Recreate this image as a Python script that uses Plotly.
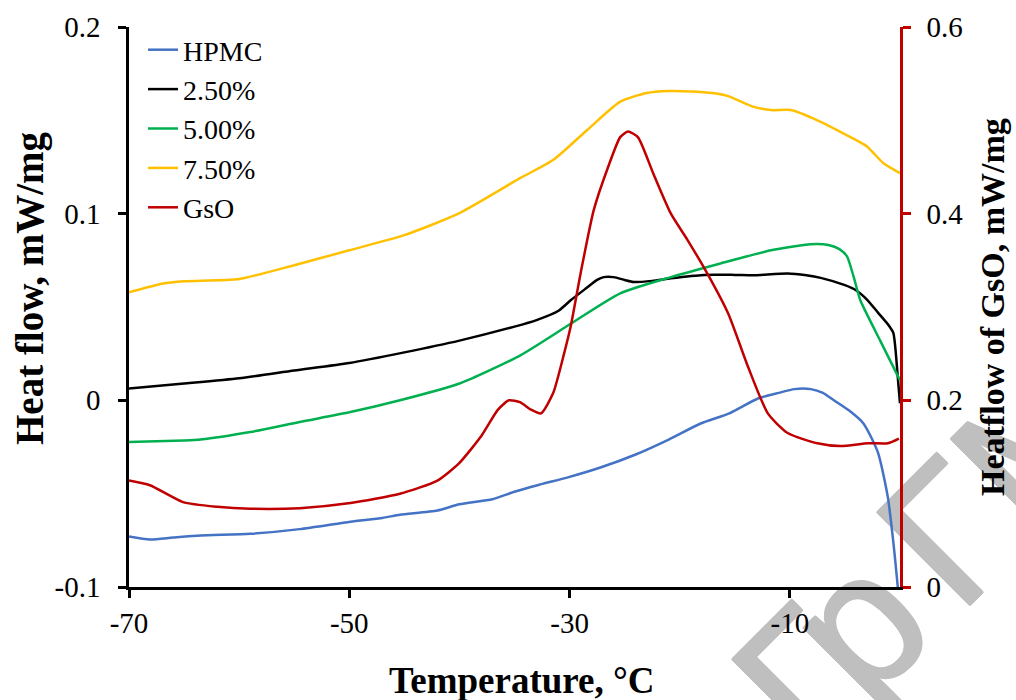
import plotly.graph_objects as go

# ---- data ----
hpmc_x = [-70, -68.1, -66, -63.5, -59, -54.5, -49.9, -47, -45.4, -42, -40, -37, -35, -33, -30,
          -27.2, -24, -21, -18.1, -15.5, -12.9, -11, -9.6, -8.1, -7, -6, -4.5, -3.3, -2, -1.1, -0.55, -0.2]
hpmc_y = [-0.0729, -0.0745, -0.0735, -0.0724, -0.0715, -0.069, -0.065, -0.063, -0.0613, -0.059, -0.0557,
          -0.053, -0.049, -0.0456, -0.041, -0.036, -0.029, -0.021, -0.0124, -0.007, 0.001, 0.004, 0.006,
          0.006, 0.004, 0.0, -0.006, -0.0125, -0.028, -0.052, -0.079, -0.1]

c250_x = [-70, -65, -60, -55, -50, -45, -40, -35, -33, -31, -29.9, -28.5, -27.5, -26.9, -26, -25, -24.2,
          -22.5, -20.8, -17.8, -15, -13.3, -10.2, -8.5, -7.2, -5, -4, -3, -2, -1, -0.6, -0.2, 0]
c250_y = [0.0064, 0.009, 0.0118, 0.016, 0.02, 0.0257, 0.032, 0.0395, 0.043, 0.048, 0.0536, 0.06, 0.0645,
          0.066, 0.066, 0.0645, 0.0634, 0.064, 0.0654, 0.0672, 0.0672, 0.067, 0.068, 0.067, 0.0656, 0.0617,
          0.059, 0.054, 0.047, 0.040, 0.036, 0.0123, -0.0016]

c500_x = [-70, -65, -63.5, -59, -54.5, -49.9, -45.4, -40, -34.5, -29.9, -25.4, -20.8, -16.3, -11.7, -8.1,
          -6.5, -5.5, -4.8, -4.2, -3.6, -1.8, 0]
c500_y = [-0.0223, -0.0215, -0.021, -0.017, -0.0116, -0.0063, 0.0, 0.009, 0.024, 0.041, 0.0573, 0.066,
          0.0733, 0.0804, 0.0836, 0.0832, 0.081, 0.077, 0.066, 0.0536, 0.032, 0.0107]

c750_x = [-70, -67, -65, -60, -55, -50, -45, -40, -34.5, -31.5, -28.4, -25.4, -23, -21, -19, -17, -15.6,
          -13.5, -11.7, -9.9, -7.5, -4.5, -3, -1.5, 0]
c750_y = [0.0579, 0.0625, 0.0638, 0.065, 0.0724, 0.0804, 0.0885, 0.1003, 0.119, 0.1287, 0.1448, 0.16,
          0.1646, 0.1657, 0.1655, 0.1646, 0.163, 0.1576, 0.1555, 0.1555, 0.150, 0.141, 0.136, 0.127, 0.1217]

gso_x = [-70, -68.1, -65.1, -62, -59, -54.5, -49.9, -45.4, -42, -40, -38, -36.5, -35.5, -34.5, -33.5,
         -32.6, -31.5, -30.5, -29.9, -29, -27.8, -26.5, -25.4, -24.7, -23.8, -22.4, -20.8, -19.3, -17.5,
         -15.6, -13.8, -12, -10.2, -7.5, -5.4, -2.9, -1.1, -0.1]
gso_y = [0.114, 0.109, 0.091, 0.086, 0.0839, 0.0845, 0.090, 0.100, 0.114, 0.133, 0.162, 0.19, 0.2, 0.198,
         0.19, 0.186, 0.2075, 0.25, 0.279, 0.336, 0.404, 0.45, 0.482, 0.488, 0.482, 0.443, 0.40, 0.372,
         0.336, 0.293, 0.236, 0.186, 0.165, 0.154, 0.151, 0.154, 0.154, 0.159]

x_ticks = [-70, -50, -30, -10]
x_ticktext = ["-70", "-50", "-30", "-10"]
yl_ticks = [-0.1, 0, 0.1, 0.2]
yl_ticktext = ["-0.1", "0", "0.1", "0.2"]
yr_ticks = [0, 0.2, 0.4, 0.6]
yr_ticktext = ["0", "0.2", "0.4", "0.6"]

watermark_letters = ["Г", "р", "Г", "М", "У"]

SERIF = "Liberation Serif"
W, H = 1016, 700
L, R, T, B = 129, 116, 27, 113

def px_x(px):
    return (px - L) / (W - L - R)

def px_y(py):
    return (H - B - py) / (H - T - B)

fig = go.Figure()
series = [
    ("HPMC", hpmc_x, hpmc_y, "#4472C4", "y"),
    ("2.50%", c250_x, c250_y, "#000000", "y"),
    ("5.00%", c500_x, c500_y, "#00B050", "y"),
    ("7.50%", c750_x, c750_y, "#FFC000", "y"),
    ("GsO", gso_x, gso_y, "#C00000", "y2"),
]
for name, xs, ys, col, ax in series:
    fig.add_trace(go.Scatter(
        x=xs, y=ys, name=name, mode="lines", yaxis=ax, legendgroup=name,
        line=dict(color=col, width=2.5, shape="spline", smoothing=0.6),
        cliponaxis=True,
    ))

fig.update_layout(
    width=W, height=H, autosize=False,
    margin=dict(l=L, r=R, t=T, b=B, pad=0),
    paper_bgcolor="white", plot_bgcolor="rgba(0,0,0,0)",
    font=dict(family=SERIF, size=29, color="black"),
    showlegend=True,
    legend=dict(x=px_x(143), y=px_y(25), xanchor="left", yanchor="top",
                bgcolor="rgba(0,0,0,0)", borderwidth=0,
                font=dict(family=SERIF, size=28, color="black"),
                tracegroupgap=0, itemwidth=30),
    xaxis=dict(range=[-70, 0], tickvals=x_ticks, ticktext=x_ticktext,
               showgrid=False, zeroline=False, showline=True, linecolor="black", linewidth=2.5,
               ticks="outside", ticklen=8, tickwidth=2.5, tickcolor="black",
               tickfont=dict(family=SERIF, size=29), mirror=False),
    yaxis=dict(range=[-0.1, 0.2], tickvals=yl_ticks, ticktext=yl_ticktext,
               showgrid=False, zeroline=False, showline=True, linecolor="black", linewidth=2.5,
               ticks="outside", ticklen=8, tickwidth=2.5, tickcolor="black", ticklabelstandoff=12,
               tickfont=dict(family=SERIF, size=29)),
    yaxis2=dict(range=[0, 0.6], tickvals=yr_ticks, ticktext=yr_ticktext, overlaying="y", side="right",
                showgrid=False, zeroline=False, showline=True, linecolor="#C00000", linewidth=2.5,
                ticks="outside", ticklen=8, tickwidth=2.5, tickcolor="#C00000", ticklabelstandoff=10,
                tickfont=dict(family=SERIF, size=29, color="black")),
)

# axis titles
fig.add_annotation(text="<b>Temperature, °C</b>", xref="paper", yref="paper",
                   x=px_x(522), y=px_y(680), xanchor="center", yanchor="middle", showarrow=False,
                   font=dict(family=SERIF, size=37, color="black"))
fig.add_annotation(text="<b>Heat flow, mW/mg</b>", xref="paper", yref="paper",
                   x=px_x(30), y=px_y(288), xanchor="center", yanchor="middle", showarrow=False,
                   textangle=-90, font=dict(family=SERIF, size=39, color="black"))
fig.add_annotation(text="<b>Heatflow of GsO, mW/mg</b>", xref="paper", yref="paper",
                   x=px_x(992), y=px_y(307), xanchor="center", yanchor="middle", showarrow=False,
                   textangle=-90, font=dict(family=SERIF, size=34, color="black"))

# watermark, letter by letter, drawn below the plot (pixel anchor of each letter)
EM = 190
WM_COLOR = "#BFBFBF"
letter_px = [(791, 667), (844, 611), (936, 520), (1029, 427), (1128, 328)]
thicken = ", ".join(f"{dx}px {dy}px 0 {WM_COLOR}" for dx, dy in
                    [(1, 1), (-1, -1), (1, -1), (-1, 1), (1, 0), (-1, 0), (0, 1), (0, -1)])
for ch, (pxc, pyc) in zip(watermark_letters, letter_px):
    cx, cy = px_x(pxc), px_y(pyc)
    fig.add_shape(type="rect", xref="paper", yref="paper", layer="below",
                  x0=cx - 0.001, x1=cx + 0.001, y0=cy - 0.001, y1=cy + 0.001,
                  line=dict(width=0), fillcolor="rgba(0,0,0,0)",
                  label=dict(text=ch, textangle=-45, textposition="middle center",
                             font=dict(family="Liberation Sans", size=EM, color=WM_COLOR,
                                       shadow=thicken)))

fig.write_html("out.html")
